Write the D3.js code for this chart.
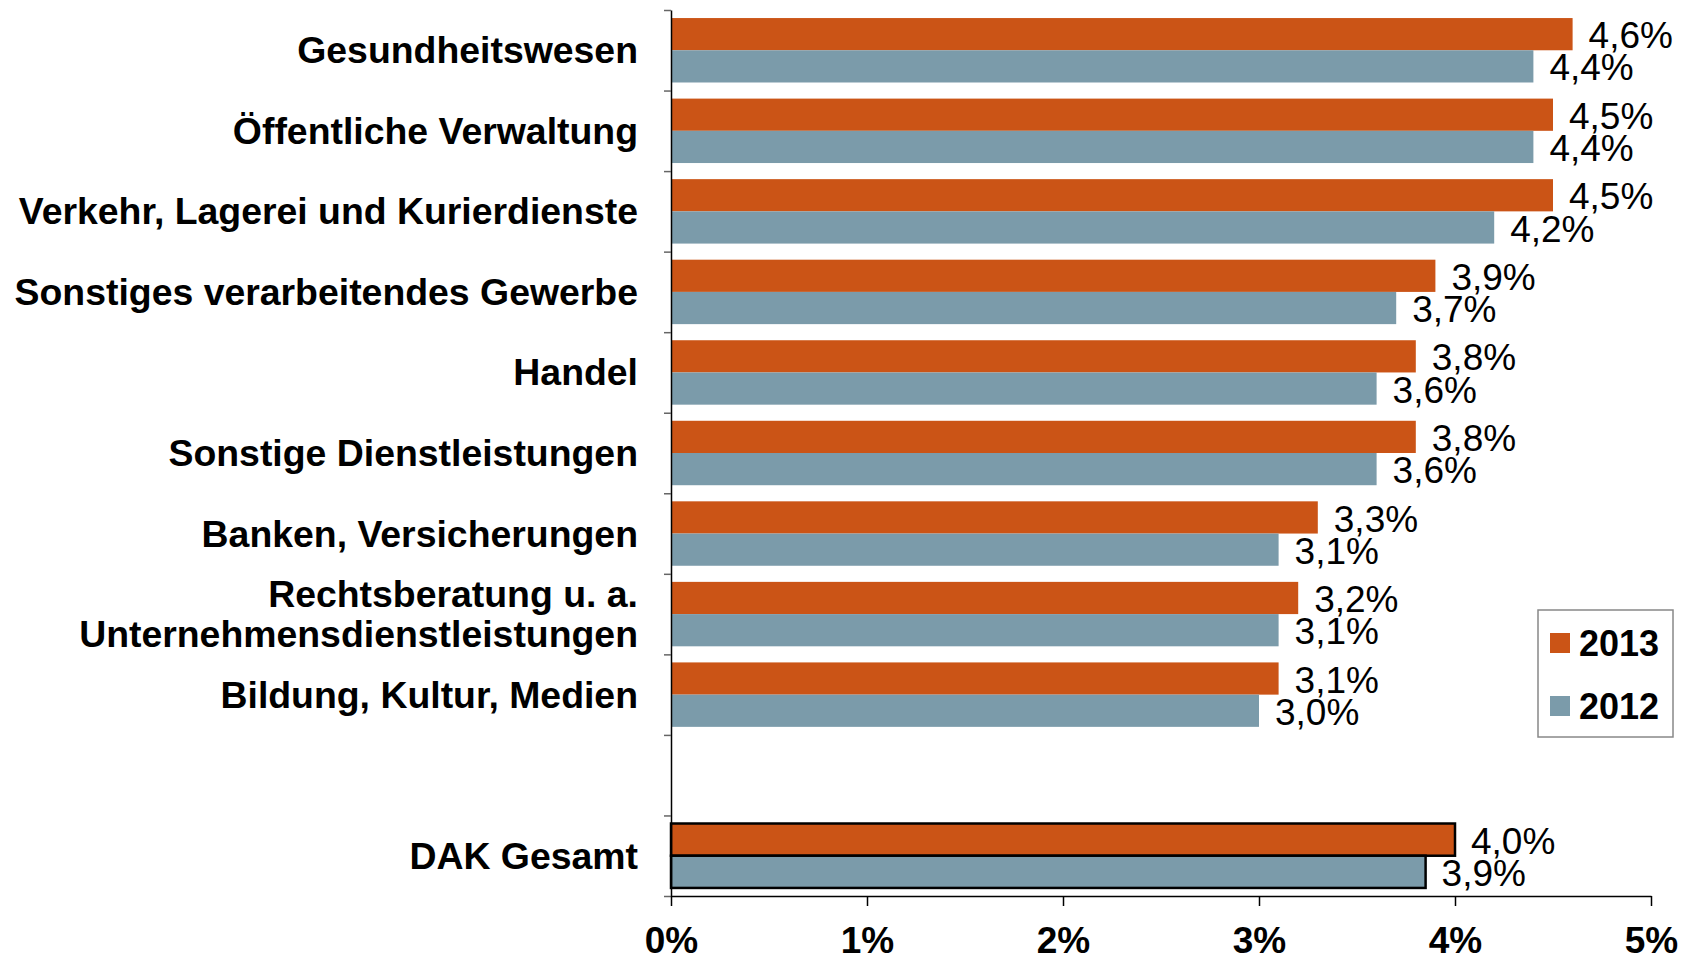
<!DOCTYPE html>
<html>
<head>
<meta charset="utf-8">
<script src="https://cdn.jsdelivr.net/npm/d3@7"></script>
<style>
  body { margin: 0; background: #fff; }
  svg { display: block; font-family: Arial, "Liberation Sans", sans-serif; }
</style>
</head>
<body>
<svg id="chart" width="1686" height="958"></svg>
<script>
// categories, top to bottom ("" is the empty gap row)
const CATEGORIES = [
  ["Gesundheitswesen"],
  ["Öffentliche Verwaltung"],
  ["Verkehr, Lagerei und Kurierdienste"],
  ["Sonstiges verarbeitendes Gewerbe"],
  ["Handel"],
  ["Sonstige Dienstleistungen"],
  ["Banken, Versicherungen"],
  ["Rechtsberatung u. a.", "Unternehmensdienstleistungen"],
  ["Bildung, Kultur, Medien"],
  [""],
  ["DAK Gesamt"]
];
const VALUES_2013 = [4.6, 4.5, 4.5, 3.9, 3.8, 3.8, 3.3, 3.2, 3.1, null, 4.0];
const VALUES_2012 = [4.4, 4.4, 4.2, 3.7, 3.6, 3.6, 3.1, 3.1, 3.0, null, 3.85];
const SERIES = ["2013", "2012"];
const X_TICKS = [0, 1, 2, 3, 4, 5];
const TOTAL_ROW = 10;

const COLORS = { "2013": "#cb5416", "2012": "#7b9baa" };

const svg = d3.select("#chart");
svg.append("rect").attr("width", 1686).attr("height", 958).attr("fill", "#fff");

const x = d3.scaleLinear().domain([0, 5]).range([671, 1651]);
const rowKeys = CATEGORIES.map((c, i) => i);
const y = d3.scaleBand().domain(rowKeys).range([10, 896]).paddingInner(0).paddingOuter(0);
const ySub = d3.scaleBand().domain(SERIES).range([0, y.bandwidth()]).paddingInner(0).paddingOuter(0.25);

const rows = rowKeys.map(i => ({
  i: i,
  "2013": VALUES_2013[i],
  "2012": VALUES_2012[i]
}));

const fmt = v => d3.format(".1f")(v).replace(".", ",") + "%";

// bars
const rowG = svg.selectAll("g.row")
  .data(rows)
  .enter()
  .append("g")
  .attr("class", "row")
  .attr("transform", d => `translate(0,${y(d.i)})`);

rowG.selectAll("rect")
  .data(d => SERIES.filter(s => d[s] != null).map(s => ({ s: s, v: d[s], total: d.i === TOTAL_ROW })))
  .enter()
  .append("rect")
  .attr("x", x(0))
  .attr("y", d => ySub(d.s))
  .attr("width", d => x(d.v) - x(0))
  .attr("height", ySub.bandwidth())
  .attr("fill", d => COLORS[d.s])
  .attr("stroke", d => d.total ? "#000" : "none")
  .attr("stroke-width", 2.5);

// value labels
rowG.selectAll("text.val")
  .data(d => SERIES.filter(s => d[s] != null).map(s => ({ s: s, v: d[s] })))
  .enter()
  .append("text")
  .attr("class", "val")
  .attr("x", d => x(d.v) + 16)
  .attr("y", d => ySub(d.s) + ySub.bandwidth() - 2)
  .attr("font-size", 37)
  .attr("fill", "#000")
  .text(d => fmt(d.v));

// y axis with ticks at row boundaries
const yEdge = d3.scaleLinear().domain([0, CATEGORIES.length]).range([10, 896]);
const yAxis = svg.append("g")
  .attr("transform", `translate(${x(0)},0)`)
  .call(d3.axisLeft(yEdge).ticks(CATEGORIES.length).tickFormat("").tickSizeOuter(0).tickSizeInner(7));
yAxis.select(".domain").attr("stroke", "#000").attr("stroke-width", 1.5);
yAxis.selectAll(".tick line").attr("stroke", "#666").attr("stroke-width", 1.5);

// category labels
svg.selectAll("text.cat")
  .data(CATEGORIES.map((lines, i) => ({ lines: lines, i: i })))
  .enter()
  .append("text")
  .attr("class", "cat")
  .attr("text-anchor", "end")
  .attr("font-size", 37.4)
  .attr("font-weight", "bold")
  .attr("fill", "#000")
  .each(function (d) {
    const cy = y(d.i) + y.bandwidth() / 2;
    const n = d.lines.length;
    d.lines.forEach((line, k) => {
      d3.select(this).append("tspan")
        .attr("x", 638)
        .attr("y", cy + (k - (n - 1) / 2) * 40 + 13)
        .text(line);
    });
  });

// x axis
const xAxis = svg.append("g")
  .attr("transform", `translate(0,896)`)
  .call(d3.axisBottom(x).tickValues(X_TICKS).tickFormat(d => d + "%").tickSizeOuter(0).tickSizeInner(10));
xAxis.select(".domain").attr("stroke", "#000").attr("stroke-width", 1.5);
xAxis.selectAll(".tick line").attr("stroke", "#000").attr("stroke-width", 1.5);
xAxis.selectAll(".tick text")
  .attr("y", 57)
  .attr("dy", 0)
  .attr("font-size", 37)
  .attr("font-weight", "bold")
  .attr("font-family", "Arial, 'Liberation Sans', sans-serif")
  .attr("fill", "#000");

// legend
const legend = svg.append("g").attr("transform", "translate(1538,610)");
legend.append("rect")
  .attr("width", 135)
  .attr("height", 127)
  .attr("fill", "#fff")
  .attr("stroke", "#888")
  .attr("stroke-width", 1.5);
const legY = d3.scalePoint().domain(SERIES).range([33, 96]);
const li = legend.selectAll("g.li")
  .data(SERIES)
  .enter()
  .append("g")
  .attr("transform", d => `translate(0,${legY(d)})`);
li.append("rect")
  .attr("x", 12)
  .attr("y", -10)
  .attr("width", 20)
  .attr("height", 20)
  .attr("fill", d => COLORS[d]);
li.append("text")
  .attr("x", 41)
  .attr("y", 13)
  .attr("font-size", 36)
  .attr("font-weight", "bold")
  .attr("fill", "#000")
  .text(d => d);
</script>
</body>
</html>
